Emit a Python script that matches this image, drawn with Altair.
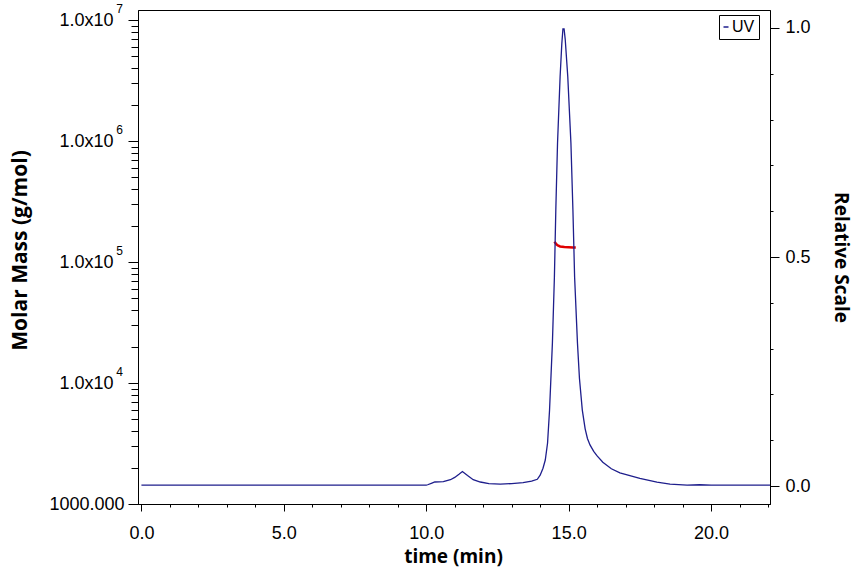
import altair as alt
import pandas as pd

# ---- data ----
uv_time = [0.0, 10.0, 10.05, 10.2, 10.3, 10.6, 10.85, 11.0, 11.15, 11.27, 11.45, 11.65,
           11.9, 12.2, 12.6, 13.0, 13.4, 13.7, 13.9, 14.0, 14.1, 14.18, 14.26, 14.33,
           14.43, 14.50, 14.55, 14.61, 14.70, 14.76, 14.80, 14.84, 14.88, 14.97, 15.08,
           15.15, 15.21, 15.31, 15.38, 15.48, 15.58, 15.66, 15.75, 15.88, 16.0, 16.2, 16.5,
           16.8, 17.5, 18.1, 18.56, 19.16, 19.6, 20.0, 22.07]
uv_rel = [0.002, 0.002, 0.003, 0.0066, 0.009, 0.010, 0.014, 0.019, 0.026, 0.032, 0.023, 0.014,
          0.009, 0.0055, 0.0044, 0.0055, 0.0076, 0.011, 0.015, 0.024, 0.039, 0.057, 0.094, 0.166,
          0.312, 0.456, 0.603, 0.749, 0.893, 0.965, 0.998, 0.998, 0.975, 0.893, 0.749,
          0.603, 0.456, 0.312, 0.235, 0.166, 0.125, 0.104, 0.090, 0.076, 0.066, 0.052, 0.038,
          0.029, 0.017, 0.0087, 0.0044, 0.0022, 0.003, 0.0022, 0.0022]

mm_time = [14.50, 14.53, 14.57, 14.62, 14.70, 14.85, 15.0, 15.15, 15.25]
mm_mass = [1.47e5, 1.44e5, 1.40e5, 1.37e5, 1.345e5, 1.33e5, 1.325e5, 1.32e5, 1.32e5]

exp_mass = [1e4, 1e5, 1e6, 1e7]
exp_text = ["4", "5", "6", "7"]

x_ticks = list(range(0, 23))
left_ticks = [k * 10 ** n for n in range(3, 7) for k in range(1, 10)] + [10 ** 7]
right_ticks = [round(i * 0.1, 1) for i in range(11)]

uv_df = pd.DataFrame({"time": uv_time, "rel": uv_rel, "series": ["UV"] * len(uv_time)})
mm_df = pd.DataFrame({"time": mm_time, "mass": mm_mass})
exp_df = pd.DataFrame({"mass": exp_mass, "exp": exp_text})

LABEL_FONT = "Liberation Sans"
TITLE_FONT = "Open Sans"

x_axis = alt.Axis(
    values=x_ticks,
    labelExpr="datum.value % 5 === 0 ? format(datum.value, '.1f') : ''",
    tickSize={"condition": {"test": "datum.value % 5 === 0", "value": 7}, "value": 3},
    labelPadding=13, labelFont=LABEL_FONT, labelFontSize=18, labelColor="black",
    labelOverlap=False, grid=False, domainColor="black", tickColor="black",
    title="time (min)", titleFont=TITLE_FONT, titleFontSize=19, titleFontWeight="bold",
    titleColor="black", titleX=315, titleY=52, titleAlign="center", titleBaseline="middle",
)
x_enc = alt.X("time:Q", scale=alt.Scale(domain=[-0.12, 22.07], nice=False, zero=False), axis=x_axis)

pow_test = "datum.value == 1000 || datum.value == 10000 || datum.value == 100000 || datum.value == 1000000 || datum.value == 10000000"
left_axis = alt.Axis(
    orient="left", values=left_ticks,
    labelExpr="datum.value == 1000 ? '1000.000' : ((" + pow_test + ") ? '1.0x10' : '')",
    tickSize={"condition": {"test": pow_test, "value": 10}, "value": 7},
    labelPadding={"condition": {"test": "datum.value == 1000", "value": 4}, "value": 15},
    labelFont=LABEL_FONT, labelFontSize=18, labelColor="black", labelOverlap=False,
    grid=False, domainColor="black", tickColor="black",
    title="Molar Mass (g/mol)", titleFont=TITLE_FONT, titleFontSize=21, titleFontWeight="bold",
    titleColor="black", titleAngle=270, titleX=-118, titleY=240, titleAlign="center",
    titleBaseline="middle",
)
y_left_scale = alt.Scale(type="log", domain=[1000, 1.21e7], nice=False)

major_r = "abs(datum.value * 2 - round(datum.value * 2)) < 0.000001"
right_axis = alt.Axis(
    orient="right", values=right_ticks,
    labelExpr="(" + major_r + ") ? format(datum.value, '.1f') : ''",
    tickSize={"condition": {"test": major_r, "value": 9}, "value": 3},
    labelPadding=6, labelFont=LABEL_FONT, labelFontSize=18, labelColor="black",
    labelOverlap=False, grid=False, domainColor="black", tickColor="black",
    title="Relative Scale", titleFont=TITLE_FONT, titleFontSize=19, titleFontWeight="bold",
    titleColor="black", titleAngle=90, titleX=70, titleY=247, titleAlign="center",
    titleBaseline="middle",
)

mm_line = alt.Chart(mm_df).mark_line(color="#e00000", strokeWidth=2.5).encode(
    x=x_enc,
    y=alt.Y("mass:Q", scale=y_left_scale, axis=left_axis),
)
exp_layer = alt.Chart(exp_df).mark_text(
    font=LABEL_FONT, fontSize=12, color="black", align="center", baseline="middle", dy=-11
).encode(
    x=alt.value(-18.5),
    y=alt.Y("mass:Q", scale=y_left_scale, axis=left_axis),
    text="exp:N",
)
left = alt.layer(mm_line, exp_layer)

uv_line = alt.Chart(uv_df).mark_line(strokeWidth=1.3).encode(
    x=x_enc,
    y=alt.Y("rel:Q", scale=alt.Scale(domain=[-0.039, 1.039], nice=False, zero=False), axis=right_axis),
    color=alt.Color(
        "series:N",
        scale=alt.Scale(domain=["UV"], range=["#1e1e8c"]),
        legend=alt.Legend(
            title=None, orient="none", legendX=581, legendY=5, symbolType="stroke",
            symbolSize=25, symbolStrokeWidth=1.5, symbolOffset=-5, labelFont=LABEL_FONT,
            labelFontSize=16, labelColor="black", strokeColor="black", fillColor="white",
            padding=4, labelOffset={"expr": "-2"},
            labelExpr="datum.label + '\u00a0\u00a0\u00a0\u00a0\u00a0\u00a0\u00a0\u00a0'",
        ),
    ),
)

chart = (
    alt.layer(left, uv_line)
    .resolve_scale(y="independent")
    .properties(
        width=632, height=494,
        autosize=alt.AutoSizeParams(type="none"),
        padding={"left": 138, "top": 10, "right": 94, "bottom": 72},
        background="white",
    )
    .configure_view(stroke="black", strokeWidth=1)
)

chart.save("out.html", embed_options={"renderer": "svg", "actions": False})
